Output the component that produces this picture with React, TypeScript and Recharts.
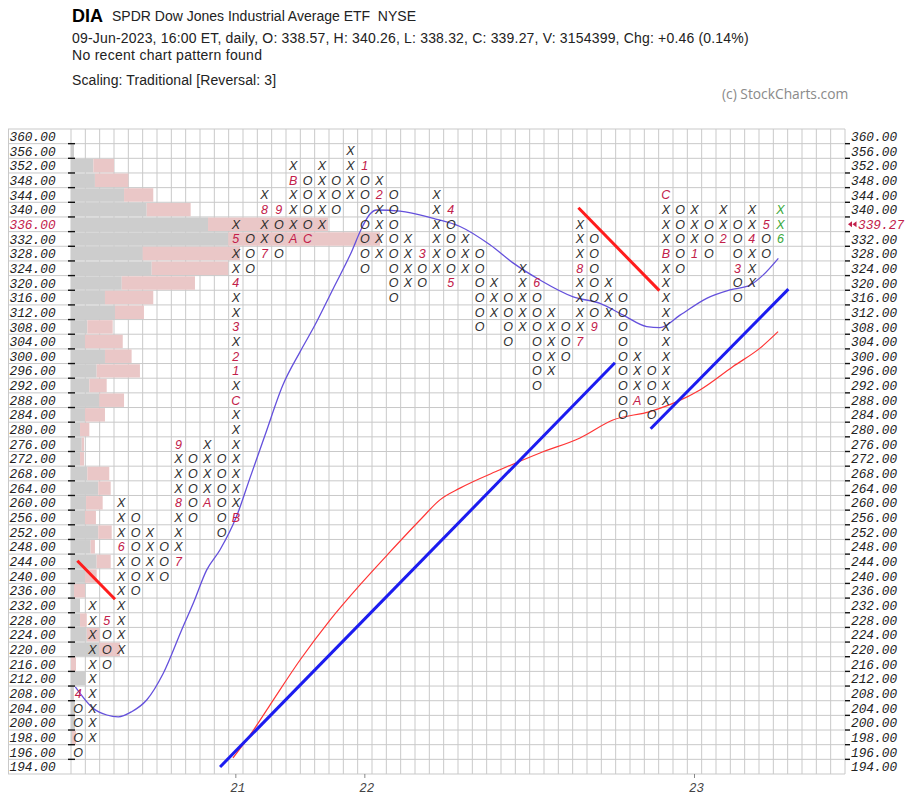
import React from 'react';
import { ComposedChart, XAxis, YAxis, CartesianGrid, Scatter, Line, ReferenceArea, ReferenceLine } from 'recharts';

// ---------------- data ----------------
const PRICE_LEVELS = [360, 356, 352, 348, 344, 340, 336, 332, 328, 324, 320, 316, 312, 308, 304, 300, 296, 292, 288, 284, 280, 276, 272, 268, 264, 260, 256, 252, 248, 244, 240, 236, 232, 228, 224, 220, 216, 212, 208, 204, 200, 198, 196, 194];

// [type, lowest box, highest box] per column, left to right
const COLUMNS: [string, number, number][] = [
  ['O', 196, 208], ['X', 198, 232], ['O', 216, 228], ['X', 220, 260], ['O', 236, 256],
  ['X', 240, 252], ['O', 240, 248], ['X', 244, 276], ['O', 256, 272], ['X', 260, 276],
  ['O', 252, 272], ['X', 256, 336], ['O', 324, 332], ['X', 328, 344], ['O', 328, 340],
  ['X', 332, 352], ['O', 332, 348], ['X', 336, 352], ['O', 340, 348], ['X', 344, 356],
  ['O', 324, 352], ['X', 328, 348], ['O', 316, 344], ['X', 320, 332], ['O', 320, 328],
  ['X', 324, 344], ['O', 320, 340], ['X', 324, 332], ['O', 308, 328], ['X', 312, 320],
  ['O', 304, 316], ['X', 308, 324], ['O', 292, 320], ['X', 296, 312], ['O', 300, 308],
  ['X', 304, 336], ['O', 308, 332], ['X', 312, 320], ['O', 284, 316], ['X', 288, 300],
  ['O', 284, 296], ['X', 288, 344], ['O', 324, 340], ['X', 328, 340], ['O', 328, 336],
  ['X', 332, 340], ['O', 316, 336], ['X', 320, 340], ['O', 328, 336], ['X', 332, 340],
];

// [column, price, month label]
const MONTH_MARKS: [number, number, string][] = [
  [0, 208, '4'], [2, 228, '5'], [3, 248, '6'], [7, 244, '7'], [7, 260, '8'], [7, 276, '9'],
  [9, 260, 'A'], [11, 256, 'B'], [11, 288, 'C'], [11, 296, '1'], [11, 300, '2'], [11, 308, '3'],
  [11, 320, '4'], [11, 332, '5'], [13, 328, '7'], [13, 340, '8'], [14, 340, '9'], [15, 332, 'A'],
  [15, 348, 'B'], [16, 332, 'C'], [20, 352, '1'], [21, 344, '2'], [24, 328, '3'], [26, 340, '4'],
  [26, 320, '5'], [32, 320, '6'], [35, 304, '7'], [35, 324, '8'], [36, 308, '9'], [39, 288, 'A'],
  [41, 328, 'B'], [41, 344, 'C'], [43, 328, '1'], [45, 332, '2'], [46, 324, '3'], [47, 332, '4'],
  [48, 336, '5'], [49, 332, '6'],
];
const CURRENT_COLUMN = 49;

const YEAR_TICKS = [11, 20, 43];
const YEAR_LABELS = ['21', '22', '23'];

// volume at price, per price row (same order as PRICE_LEVELS)
const VOL_DOWN = [0, 0.21, 1.56, 1.67, 3.7, 5.28, 9.56, 10.97, 5.0, 5.63, 3.54, 2.37, 3.07, 1.14, 0.98, 2.37, 1.79, 1.28, 1.97, 0.98, 0.63, 0.75, 0.63, 1.14, 1.9, 1.05, 0.98, 1.9, 1.37, 1.79, 0.98, 0.21, 0.63, 0.63, 1.1, 1.97, 0, 0.98, 0.2, 0.28, 0.28, 0.07, 0, 0];
const VOL_TOTAL = [0, 0.21, 3.0, 4.0, 5.74, 8.35, 17.93, 21.56, 11.79, 10.97, 8.65, 5.74, 5.09, 2.91, 3.61, 4.23, 4.81, 2.49, 3.7, 2.37, 1.28, 0.91, 0.91, 2.67, 2.77, 2.21, 1.74, 2.84, 1.67, 2.77, 1.79, 0.98, 0.63, 1.1, 1.97, 3.42, 0.35, 0.98, 0.2, 0.28, 0.28, 0.35, 0, 0];

// moving averages: [column, price]
const MA_FAST: [number, number][] = [
  [-0.2, 209.8], [1.06, 203.9], [2.0, 202.1], [2.8, 201.6], [3.73, 203.0], [4.78, 206.2], [5.94, 213.5],
  [7.22, 225.3], [8.03, 232.6], [8.97, 241.7], [9.9, 247.2], [11.01, 255.9], [11.99, 266.8],
  [13.04, 278.5], [14.29, 292.2], [15.48, 301.2], [16.52, 308.5], [17.8, 318.5], [18.97, 327.6], [19.89, 335.8],
  [20.36, 338.8], [20.83, 339.9], [22.45, 339.6], [24.78, 337.6], [26.64, 335.4], [28.73, 330.4], [30.36, 325.4],
  [32.22, 320.8], [34.54, 316.2], [36.41, 314.4], [38.03, 311.2], [39.67, 308.1], [40.59, 307.8], [41.99, 311.2],
  [43.85, 315.8], [45.48, 318.1], [46.87, 319.4], [47.8, 322.2], [48.85, 326.7],
];
const MA_SLOW: [number, number][] = [
  [10.8, 195.2], [11.99, 198.3], [13.38, 204.8], [15.48, 217.1], [17.57, 228.0], [19.66, 237.6], [21.76, 246.6],
  [23.85, 255.3], [25.24, 260.8], [26.64, 264.0], [29.43, 269.0], [32.22, 273.6], [35.01, 277.7], [37.31, 282.6],
  [39.9, 284.9], [41.78, 287.6], [43.38, 290.8], [45.69, 297.2], [47.57, 302.2], [48.83, 306.7],
];

// trend lines: [[col, price], [col, price]]
const BULL_LINES: [number, number][][] = [
  [[9.9, 193.96], [37.45, 298.2]],
  [[39.94, 280.2], [49.55, 318.3]],
];
const BEAR_LINES: [number, number][][] = [
  [[-0.06, 244.2], [2.57, 233.7]],
  [[34.9, 340.5], [40.55, 317.9]],
];

const LAST_PRICE = '339.27';
const LAST_PRICE_LEVEL = 336;

// ---------------- layout / style ----------------
const W = 920;
const H = 804;
const PLOT_LEFT = 71;
const PLOT_RIGHT = 845;
const PLOT_TOP = 129;
const PLOT_BOTTOM = 774;
const ROW_H = (PLOT_BOTTOM - PLOT_TOP) / PRICE_LEVELS.length;
const INK = '#2e2e2e';
const MONTH_RED = '#c2204a';
const GREEN = '#3aa83a';
const GRID = '#c9c9c9';
const MONO = '"Liberation Mono", "DejaVu Sans Mono", monospace';
const GLYPH_FONT = '"Liberation Sans", Arial, sans-serif';
const HEAD_FONT = '"Liberation Sans", Arial, sans-serif';
const ital = { fontStyle: 'italic' as const };

const priceToRow = (p: number) => (p >= 200 ? (360 - p) / 4 : 40 + (200 - p) / 2);

const markMap = new Map<string, string>(MONTH_MARKS.map(([c, p, l]) => [`${c}_${p}`, l]));
const cells: { c: number; r: number; t: string; color: string }[] = [];
COLUMNS.forEach(([t, lo, hi], c) => {
  PRICE_LEVELS.forEach((p, r) => {
    if (p < lo || p > hi) return;
    const m = markMap.get(`${c}_${p}`);
    const cur = c === CURRENT_COLUMN;
    if (m) cells.push({ c, r, t: m, color: cur ? GREEN : MONTH_RED });
    else cells.push({ c, r, t, color: cur ? GREEN : INK });
  });
});

const fastData = MA_FAST.map(([c, p]) => ({ c, r: priceToRow(p) }));
const slowData = MA_SLOW.map(([c, p]) => ({ c, r: priceToRow(p) }));
const rowTicks = PRICE_LEVELS.map((_, i) => i);
const rowBounds = PRICE_LEVELS.map((_, i) => i - 0.5).concat([PRICE_LEVELS.length - 0.5]);
const NCOLS = 54;
const colBounds: number[] = [];
for (let i = 0; i <= NCOLS; i++) colBounds.push(i - 0.5);

const Glyph = (props: any) => {
  const { cx, cy, payload } = props;
  if (cx == null || cy == null) return null;
  return (
    <text x={cx} y={cy} dy="0.36em" textAnchor="middle" fontFamily={GLYPH_FONT} style={ital} fontSize={12.5} fill={payload.color}>
      {payload.t}
    </text>
  );
};

const YTick = (props: any) => {
  const { y, payload } = props;
  const r = payload.value as number;
  const price = PRICE_LEVELS[r];
  const half = ROW_H / 2;
  const isLast = price === LAST_PRICE_LEVEL;
  return (
    <g>
      {r === 0 && <line x1={8} x2={PLOT_LEFT} y1={y - half} y2={y - half} stroke={GRID} />}
      {r === 0 && <line x1={8.5} x2={8.5} y1={y - half} y2={y - half + ROW_H * PRICE_LEVELS.length} stroke={GRID} />}
      <line x1={8} x2={PLOT_LEFT} y1={y + half} y2={y + half} stroke={GRID} />
      <text x={9.5} y={y} dy="0.36em" fontFamily={MONO} style={ital} fontSize={12.8} fill={isLast ? MONTH_RED : '#222'}>
        {price.toFixed(2)}
      </text>
      {r < PRICE_LEVELS.length - 1 && (
        <line x1={PLOT_LEFT - 3} x2={PLOT_LEFT + 4} y1={y + half} y2={y + half} stroke="#111" strokeWidth={1.4} />
      )}
      {r < PRICE_LEVELS.length - 1 && (
        <line x1={PLOT_RIGHT} x2={PLOT_RIGHT + 5} y1={y + half} y2={y + half} stroke="#111" strokeWidth={1.4} />
      )}
      {isLast ? (
        <g>
          <polygon points={`${848},${y} ${852},${y - 3} ${852},${y + 3}`} fill={MONTH_RED} />
          <polygon points={`${852.5},${y} ${856.5},${y - 3} ${856.5},${y + 3}`} fill={MONTH_RED} />
          <text x={858} y={y} dy="0.36em" fontFamily={MONO} style={ital} fontSize={12.8} fill={MONTH_RED}>
            {LAST_PRICE}
          </text>
        </g>
      ) : (
        <text x={851} y={y} dy="0.36em" fontFamily={MONO} style={ital} fontSize={12.8} fill="#222">
          {price.toFixed(2)}
        </text>
      )}
    </g>
  );
};

const XTick = (props: any) => {
  const { x, payload, index } = props;
  return (
    <g>
      <line x1={x} x2={x} y1={PLOT_BOTTOM} y2={PLOT_BOTTOM + 4} stroke="#888" />
      <text x={x + 2} y={PLOT_BOTTOM + 18} textAnchor="middle" fontFamily={MONO} style={ital} fontSize={12.5} fill="#444">
        {YEAR_LABELS[YEAR_TICKS.indexOf(payload.value)] ?? YEAR_LABELS[index]}
      </text>
    </g>
  );
};

export default function App() {
  return (
    <div style={{ position: 'absolute', left: 0, top: 0, width: W, height: H, background: '#fff', overflow: 'hidden' }}>
      <ComposedChart width={W} height={H} margin={{ top: PLOT_TOP, right: W - PLOT_RIGHT, bottom: 0, left: 8 }}>
        <CartesianGrid horizontalValues={rowBounds} verticalValues={colBounds} stroke={GRID} strokeWidth={1} />
        <XAxis
          type="number"
          dataKey="c"
          domain={[-0.5, NCOLS - 0.5]}
          ticks={YEAR_TICKS}
          interval={0}
          tick={<XTick />}
          tickLine={false}
          axisLine={false}
          height={H - PLOT_BOTTOM}
          allowDataOverflow
        />
        <YAxis
          type="number"
          dataKey="r"
          domain={[-0.5, PRICE_LEVELS.length - 0.5]}
          reversed
          ticks={rowTicks}
          interval={0}
          tick={<YTick />}
          tickLine={false}
          axisLine={false}
          width={PLOT_LEFT - 8}
          allowDataOverflow
        />
        {PRICE_LEVELS.map((_, r) =>
          VOL_DOWN[r] > 0 ? (
            <ReferenceArea key={`vd${r}`} x1={-0.5} x2={-0.5 + VOL_DOWN[r]} y1={r - 0.46} y2={r + 0.46} fill="#cdcdcd" fillOpacity={1} stroke="none" ifOverflow="visible" />
          ) : null
        )}
        {PRICE_LEVELS.map((_, r) =>
          VOL_TOTAL[r] > VOL_DOWN[r] ? (
            <ReferenceArea key={`vu${r}`} x1={-0.5 + VOL_DOWN[r]} x2={-0.5 + VOL_TOTAL[r]} y1={r - 0.46} y2={r + 0.46} fill="#eac7c7" fillOpacity={1} stroke="none" ifOverflow="visible" />
          ) : null
        )}
        <Scatter data={cells} dataKey="r" shape={(p: any) => <Glyph {...p} />} isAnimationActive={false} />
        <Line data={fastData} dataKey="r" type="monotone" stroke="#6450dc" strokeWidth={1.3} dot={false} activeDot={false} isAnimationActive={false} />
        <Line data={slowData} dataKey="r" type="monotone" stroke="#ff3535" strokeWidth={1.2} dot={false} activeDot={false} isAnimationActive={false} />
        {BULL_LINES.map((s, i) => (
          <ReferenceLine key={`bl${i}`} segment={[{ x: s[0][0], y: priceToRow(s[0][1]) }, { x: s[1][0], y: priceToRow(s[1][1]) }]} stroke="#1c1cf0" strokeWidth={3} ifOverflow="visible" />
        ))}
        {BEAR_LINES.map((s, i) => (
          <ReferenceLine key={`br${i}`} segment={[{ x: s[0][0], y: priceToRow(s[0][1]) }, { x: s[1][0], y: priceToRow(s[1][1]) }]} stroke="#ff1c1c" strokeWidth={3} ifOverflow="visible" />
        ))}
      </ComposedChart>
      <svg width={W} height={110} style={{ position: 'absolute', left: 0, top: 0, pointerEvents: 'none' }}>
        <text x={72} y={22} fontFamily={HEAD_FONT} fontWeight="bold" fontSize={18} fill="#000">DIA</text>
        <text x={112} y={21} fontFamily={HEAD_FONT} fontSize={14} fill="#222" style={{ whiteSpace: 'pre' }}>
          {'SPDR Dow Jones Industrial Average ETF  NYSE'}
        </text>
        <text x={72} y={43} fontFamily={HEAD_FONT} fontSize={14} letterSpacing={0.18} fill="#222">
          09-Jun-2023, 16:00 ET, daily, O: 338.57, H: 340.26, L: 338.32, C: 339.27, V: 3154399, Chg: +0.46 (0.14%)
        </text>
        <text x={72} y={60} fontFamily={HEAD_FONT} fontSize={14} letterSpacing={0.28} fill="#222">No recent chart pattern found</text>
        <text x={72} y={85} fontFamily={HEAD_FONT} fontSize={14} letterSpacing={0.1} fill="#222">Scaling: Traditional [Reversal: 3]</text>
        <text x={722} y={99} fontFamily='"Open Sans", sans-serif' fontSize={13.8} fill="#8a8a8a">(c) StockCharts.com</text>
      </svg>
    </div>
  );
}
